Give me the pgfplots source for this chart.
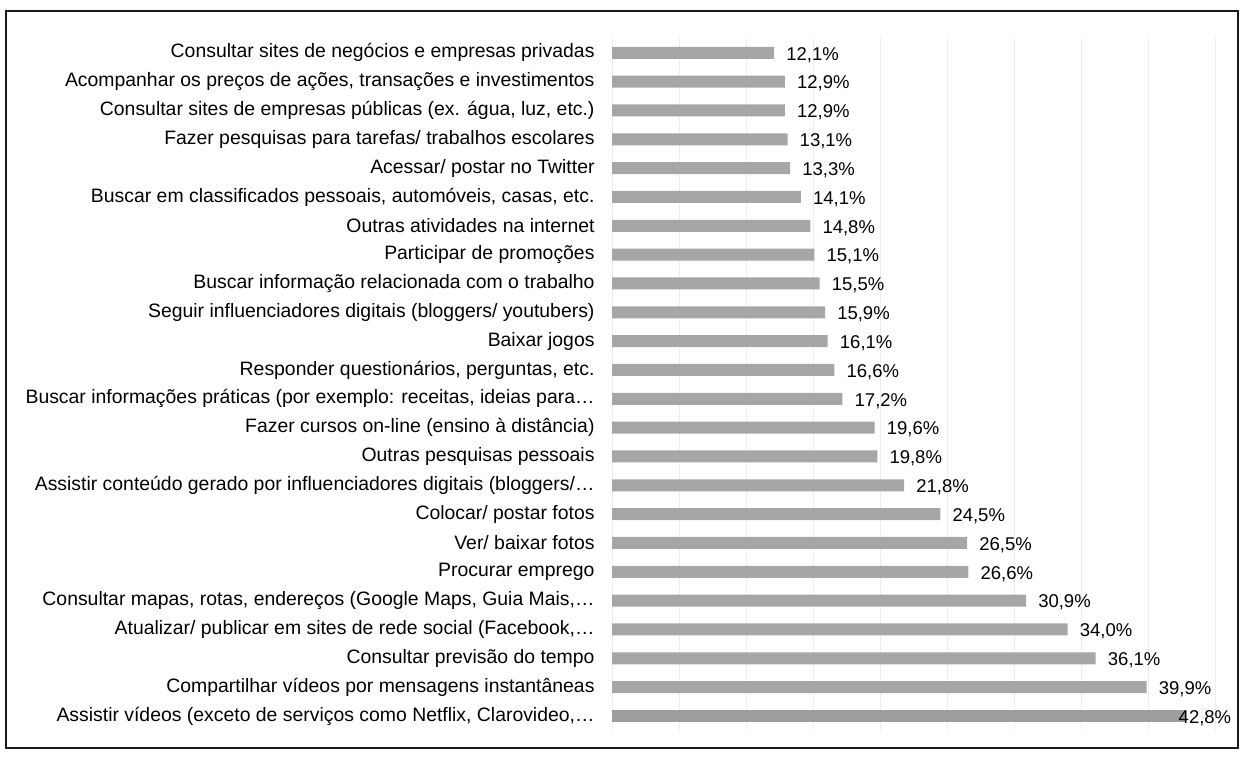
\documentclass[border=0pt]{standalone}
\usepackage{fontspec}
\setmainfont{Liberation Sans}
\usepackage{pgfplots}
\pgfplotsset{compat=1.18}
\definecolor{bargray}{RGB}{166,166,166}
\definecolor{gridgray}{RGB}{236,236,236}
\begin{document}
\begin{tikzpicture}[x=1pt,y=1pt]
\useasboundingbox (0,0) rectangle (1242,758);
\draw[line width=2.2pt, black!90] (6,10) rectangle (1238,747);
\begin{axis}[
  at={(612pt,27.6pt)}, anchor=south west,
  scale only axis, width=603pt, height=692pt,
  xmin=0, xmax=45, ymin=-0.5, ymax=23.5, y dir=reverse,
  xbar, bar width=12pt, bar shift=0pt,
  axis line style={draw=none},
  tick style={draw=none},
  xtick={0,5,...,45}, xticklabels={},
  xmajorgrids, grid style={gridgray, line width=0.9pt},
  ytick={0,...,23},
  yticklabels={
    {Consultar sites de negócios e empresas privadas},
    {Acompanhar os preços de ações, transações e investimentos},
    {Consultar sites de empresas públicas (ex. água, luz, etc.)},
    {Fazer pesquisas para tarefas/ trabalhos escolares},
    {Acessar/ postar no Twitter},
    {Buscar em classificados pessoais, automóveis, casas, etc.},
    {Outras atividades na internet},
    {Participar de promoções},
    {Buscar informação relacionada com o trabalho},
    {Seguir influenciadores digitais (bloggers/ youtubers)},
    {Baixar jogos},
    {Responder questionários, perguntas, etc.},
    {Buscar informações práticas (por exemplo: receitas, ideias para…},
    {Fazer cursos on-line (ensino à distância)},
    {Outras pesquisas pessoais},
    {Assistir conteúdo gerado por influenciadores digitais (bloggers/…},
    {Colocar/ postar fotos},
    {Ver/ baixar fotos},
    {Procurar emprego},
    {Consultar mapas, rotas, endereços (Google Maps, Guia Mais,…},
    {Atualizar/ publicar em sites de rede social (Facebook,…},
    {Consultar previsão do tempo},
    {Compartilhar vídeos por mensagens instantâneas},
    {Assistir vídeos (exceto de serviços como Netflix, Clarovideo,…}
  },
  yticklabel style={font=\fontsize{19.4}{22}\selectfont, text=black, inner sep=0pt, xshift=-13pt},
  /pgf/number format/assume math mode=true,
  nodes near coords={\pgfmathprintnumber[fixed,fixed zerofill,precision=1,use comma]{\pgfplotspointmeta}\%},
  nodes near coords style={font=\fontsize{18.5}{21}\selectfont, text=black, anchor=west, inner sep=0pt, yshift=-2pt},
  point meta=x,
]
\addplot[fill=bargray, draw=none, nodes near coords style={xshift=12pt}] coordinates {
  (12.1,0) (12.9,1) (12.9,2) (13.1,3) (13.3,4) (14.1,5) (14.8,6) (15.1,7)
  (15.5,8) (15.9,9) (16.1,10) (16.6,11) (17.2,12) (19.6,13) (19.8,14) (21.8,15)
  (24.5,16) (26.5,17) (26.6,18) (30.9,19) (34.0,20) (36.1,21) (39.9,22)
};
\addplot[fill=bargray!95!black, draw=none, nodes near coords style={xshift=-7pt}] coordinates {
  (42.8,23)
};
\end{axis}
\end{tikzpicture}
\end{document}
